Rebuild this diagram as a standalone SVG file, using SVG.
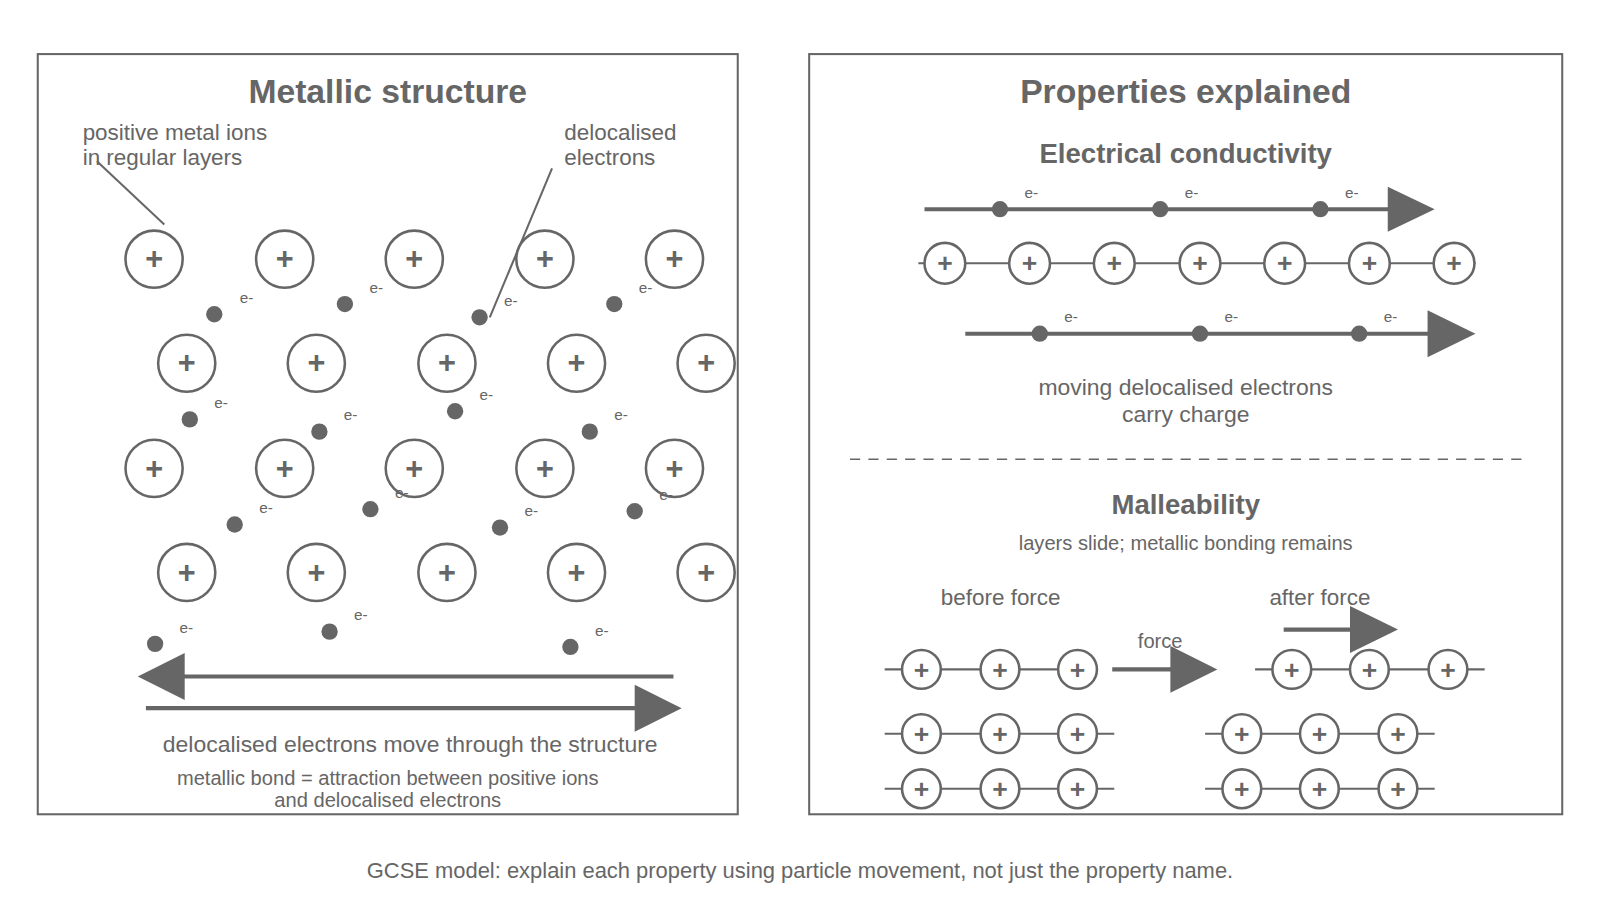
<svg xmlns="http://www.w3.org/2000/svg" width="1600" height="900" viewBox="0 0 1600 900">
<style>
text{font-family:"Liberation Sans",Arial,sans-serif;fill:#666}
.t{font-size:33px;font-weight:bold;text-anchor:middle}
.h{font-size:27px;font-weight:bold;text-anchor:middle}
.l{font-size:22px}
.c{font-size:22.5px;text-anchor:middle}
.cap{font-size:21.5px;text-anchor:middle}
.s{font-size:19.7px;text-anchor:middle}
.e{font-size:15px}
.p{font-size:30px;font-weight:bold;text-anchor:middle}
.ps{font-size:26px;font-weight:bold;text-anchor:middle}
.ion{fill:#fff;stroke:#666;stroke-width:2.5}
.ln{stroke:#666;stroke-width:2;fill:none}
.ar{stroke:#666;stroke-width:4;fill:none}
.hd{fill:#666}
.el{fill:#666}
</style>
<defs>
<g id="ionL"><circle class="ion" r="28"/><text class="p" y="10">+</text></g>
<g id="ionS"><circle class="ion" r="19"/><text class="ps" y="9">+</text></g>
<g id="ionM"><circle class="ion" r="20"/><text class="ps" y="9">+</text></g>
</defs>
<g transform="scale(1.0204)">
<rect x="37" y="53" width="686" height="745" fill="none" stroke="#666" stroke-width="2"/>
<rect x="793" y="53" width="738" height="745" fill="none" stroke="#666" stroke-width="2"/>
<text class="t" x="380" y="101">Metallic structure</text>
<text class="t" x="1162" y="101">Properties explained</text>
<text class="l" x="81" y="137">positive metal ions</text>
<text class="l" x="81" y="162">in regular layers</text>
<text class="l" x="553" y="137">delocalised</text>
<text class="l" x="553" y="162">electrons</text>
<g id="connectors">
<line class="ln" x1="95" y1="158" x2="161" y2="220"/>
<line class="ln" x1="541" y1="165" x2="480" y2="311"/>
<line class="ar" x1="660" y1="663" x2="180" y2="663"/><polygon class="hd" points="135,663 181,640 181,686"/>
<line class="ar" x1="143" y1="694" x2="623" y2="694"/><polygon class="hd" points="668,694 622,671 622,717"/>
<line class="ar" x1="906" y1="205" x2="1361" y2="205"/><polygon class="hd" points="1406,205 1360,183 1360,227"/>
<line class="ar" x1="946" y1="327" x2="1400" y2="327"/><polygon class="hd" points="1446,327 1399,304 1399,350"/>
<line class="ar" x1="1090" y1="656" x2="1148" y2="656"/><polygon class="hd" points="1193,656 1147,633 1147,679"/>
<line class="ar" x1="1258" y1="617" x2="1324" y2="617"/><polygon class="hd" points="1370,617 1323,594 1323,640"/>
<line class="ln" x1="900" y1="258" x2="1446" y2="258"/>
<line class="ln" x1="867" y1="656" x2="1075" y2="656"/>
<line class="ln" x1="867" y1="719" x2="1092" y2="719"/>
<line class="ln" x1="867" y1="773" x2="1092" y2="773"/>
<line class="ln" x1="1230" y1="656" x2="1455" y2="656"/>
<line class="ln" x1="1181" y1="719" x2="1406" y2="719"/>
<line class="ln" x1="1181" y1="773" x2="1406" y2="773"/>
<line x1="833" y1="450" x2="1492" y2="450" stroke="#666" stroke-width="1.5" stroke-dasharray="10,8"/>
</g>
<g id="ions">
<use href="#ionL" x="151" y="254"/><use href="#ionL" x="279" y="254"/><use href="#ionL" x="406" y="254"/><use href="#ionL" x="534" y="254"/><use href="#ionL" x="661" y="254"/>
<use href="#ionL" x="183" y="356"/><use href="#ionL" x="310" y="356"/><use href="#ionL" x="438" y="356"/><use href="#ionL" x="565" y="356"/><use href="#ionL" x="692" y="356"/>
<use href="#ionL" x="151" y="459"/><use href="#ionL" x="279" y="459"/><use href="#ionL" x="406" y="459"/><use href="#ionL" x="534" y="459"/><use href="#ionL" x="661" y="459"/>
<use href="#ionL" x="183" y="561"/><use href="#ionL" x="310" y="561"/><use href="#ionL" x="438" y="561"/><use href="#ionL" x="565" y="561"/><use href="#ionL" x="692" y="561"/>
</g>
<g id="electrons">
<circle class="el" cx="210" cy="308" r="8"/><text class="e" x="235" y="297">e-</text>
<circle class="el" cx="338" cy="298" r="8"/><text class="e" x="362" y="287">e-</text>
<circle class="el" cx="470" cy="311" r="8"/><text class="e" x="494" y="300">e-</text>
<circle class="el" cx="602" cy="298" r="8"/><text class="e" x="626" y="287">e-</text>
<circle class="el" cx="186" cy="411" r="8"/><text class="e" x="210" y="400">e-</text>
<circle class="el" cx="313" cy="423" r="8"/><text class="e" x="337" y="412">e-</text>
<circle class="el" cx="446" cy="403" r="8"/><text class="e" x="470" y="392">e-</text>
<circle class="el" cx="578" cy="423" r="8"/><text class="e" x="602" y="412">e-</text>
<circle class="el" cx="230" cy="514" r="8"/><text class="e" x="254" y="503">e-</text>
<circle class="el" cx="363" cy="499" r="8"/><text class="e" x="387" y="488">e-</text>
<circle class="el" cx="490" cy="517" r="8"/><text class="e" x="514" y="506">e-</text>
<circle class="el" cx="622" cy="501" r="8"/><text class="e" x="646" y="490">e-</text>
<circle class="el" cx="152" cy="631" r="8"/><text class="e" x="176" y="620">e-</text>
<circle class="el" cx="323" cy="619" r="8"/><text class="e" x="347" y="608">e-</text>
<circle class="el" cx="559" cy="634" r="8"/><text class="e" x="583" y="623">e-</text>
</g>
<text class="c" x="402" y="737">delocalised electrons move through the structure</text>
<text class="s" x="380" y="769">metallic bond = attraction between positive ions</text>
<text class="s" x="380" y="791">and delocalised electrons</text>
<text class="h" x="1162" y="160">Electrical conductivity</text>
<g id="cond">
<circle class="el" cx="980" cy="205" r="8"/><text class="e" x="1004" y="194">e-</text>
<circle class="el" cx="1137" cy="205" r="8"/><text class="e" x="1161" y="194">e-</text>
<circle class="el" cx="1294" cy="205" r="8"/><text class="e" x="1318" y="194">e-</text>
<use href="#ionM" x="926" y="258"/><use href="#ionM" x="1009" y="258"/><use href="#ionM" x="1092" y="258"/><use href="#ionM" x="1176" y="258"/><use href="#ionM" x="1259" y="258"/><use href="#ionM" x="1342" y="258"/><use href="#ionM" x="1425" y="258"/>
<circle class="el" cx="1019" cy="327" r="8"/><text class="e" x="1043" y="316">e-</text>
<circle class="el" cx="1176" cy="327" r="8"/><text class="e" x="1200" y="316">e-</text>
<circle class="el" cx="1332" cy="327" r="8"/><text class="e" x="1356" y="316">e-</text>
</g>
<text class="c" x="1162" y="387">moving delocalised electrons</text>
<text class="c" x="1162" y="414">carry charge</text>
<text class="h" x="1162" y="504">Malleability</text>
<text class="s" x="1162" y="539">layers slide; metallic bonding remains</text>
<text class="l" x="922" y="593">before force</text>
<text class="l" x="1244" y="593">after force</text>
<text class="s" x="1137" y="635">force</text>
<g id="mall">
<use href="#ionS" x="903" y="656"/><use href="#ionS" x="980" y="656"/><use href="#ionS" x="1056" y="656"/>
<use href="#ionS" x="903" y="719"/><use href="#ionS" x="980" y="719"/><use href="#ionS" x="1056" y="719"/>
<use href="#ionS" x="903" y="773"/><use href="#ionS" x="980" y="773"/><use href="#ionS" x="1056" y="773"/>
<use href="#ionS" x="1266" y="656"/><use href="#ionS" x="1342" y="656"/><use href="#ionS" x="1419" y="656"/>
<use href="#ionS" x="1217" y="719"/><use href="#ionS" x="1293" y="719"/><use href="#ionS" x="1370" y="719"/>
<use href="#ionS" x="1217" y="773"/><use href="#ionS" x="1293" y="773"/><use href="#ionS" x="1370" y="773"/>
</g>
<text class="cap" x="784" y="860">GCSE model: explain each property using particle movement, not just the property name.</text>
</g>
</svg>
